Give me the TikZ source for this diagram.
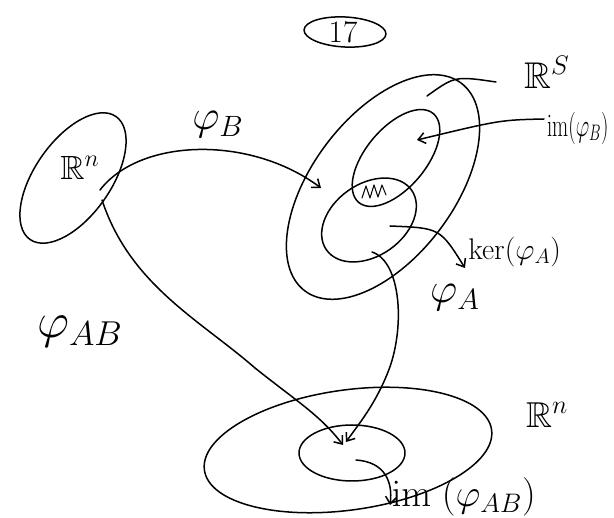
\documentclass[tikz,border=0pt]{standalone}
\usepackage{amssymb}
\usetikzlibrary{shapes.geometric,arrows.meta}
\tikzset{
  pen/.style={line width=1.5pt, line cap=round, line join=round},
  blob/.style={pen, draw, ellipse, inner sep=0pt},
  lbl/.style={font=\fontsize{24}{28}\selectfont, inner sep=1pt},
  arr/.style={pen, -{Straight Barb[length=7pt,width=11pt]}},
}
\begin{document}
\begin{tikzpicture}[x=1pt,y=-1pt]
\useasboundingbox (0,0) rectangle (614,518);
% page number
\node[blob, minimum width=82pt, minimum height=30pt, rotate=-3] (page) at (345,32) {};
\node[lbl, scale=1.3] (pagenum) at (343,32) {17};
% sets
\node[blob, minimum width=150pt, minimum height=76pt, rotate=55] (Rn) at (73,178) {};
\node[blob, minimum width=260pt, minimum height=142pt, rotate=53] (RS) at (383,187) {};
\node[blob, minimum width=116pt, minimum height=60pt, rotate=50] (imB) at (396,158) {};
\node[blob, minimum width=104pt, minimum height=72pt, rotate=35] (kerA) at (369,220) {};
\node[blob, minimum width=290pt, minimum height=120pt, rotate=8] (Rm) at (348,450) {};
\node[blob, minimum width=106pt, minimum height=56pt] (imAB) at (352,453) {};
% labels
\node[lbl, scale=1.4] (RnL) at (80,168) {$\mathbb{R}^n$};
\node[lbl, scale=1.55] (RSL) at (547,72) {$\mathbb{R}^S$};
\node[lbl, scale=1.5] (RmL) at (547,415) {$\mathbb{R}^n$};
\node[lbl, scale=1.7] (phiB) at (218,125) {$\varphi_B$};
\node[lbl, scale=1.7] (phiA) at (455,298) {$\varphi_A$};
\node[lbl, scale=2.0] (phiAB) at (80,332) {$\varphi_{AB}$};
\node[lbl, xscale=0.84, yscale=1.3, anchor=west] (imBL) at (546,128) {$\mathrm{im}(\varphi_B)$};
\node[lbl, scale=1.2, anchor=west] (kerL) at (467,252) {$\mathrm{ker}(\varphi_A)$};
\node[lbl, scale=1.55, anchor=west] (imABL) at (390,497) {$\mathrm{im}\;(\varphi_{AB})$};
% intersection hatch
\draw[pen, line width=1pt] (362,198) -- (366,186) -- (370,198) -- (374,185) -- (378,197) -- (382,185) -- (386,195);
% connector end points
\coordinate (bStart) at (100,190);
\coordinate (bTip) at (321,188);
\coordinate (abStart) at (102,200);
\coordinate (abTip) at (343,445);
\coordinate (aStart) at (372,252);
\coordinate (aTip) at (346,442);
\coordinate (sStart) at (427,96);
\coordinate (sEnd) at (496,82);
\coordinate (imBStart) at (544,119);
\coordinate (imBTip) at (417,140);
\coordinate (kStart) at (390,226);
\coordinate (kTip) at (465,268);
\coordinate (iStart) at (356,460);
\coordinate (iTip) at (390,505);
% connectors
\draw[arr] (bStart) .. controls (140,138) and (250,135) .. (bTip);
\draw[arr] (abStart) .. controls (130,285) and (200,320) .. (255,368) .. controls (295,400) and (320,415) .. (abTip);
\draw[arr] (aStart) .. controls (402,262) and (405,330) .. (388,372) .. controls (375,405) and (358,425) .. (aTip);
\draw[pen] (sStart) .. controls (455,76) .. (sEnd);
\draw[arr] (imBStart) .. controls (500,120) .. (imBTip);
\draw[arr] (kStart) .. controls (440,228) .. (kTip);
\draw[arr] (iStart) .. controls (385,462) and (393,482) .. (iTip);
\end{tikzpicture}
\end{document}
